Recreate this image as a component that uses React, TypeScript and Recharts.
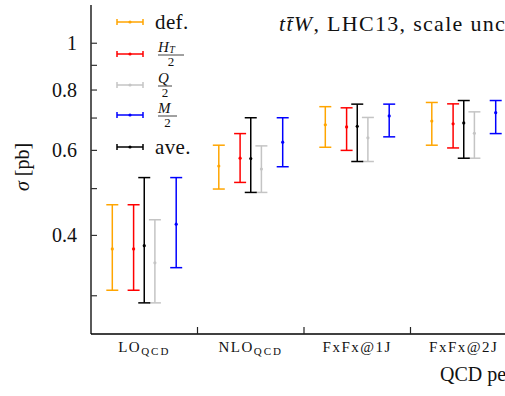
import React from 'react';
import { ComposedChart, Scatter, XAxis, YAxis, ErrorBar, Customized } from 'recharts';

const categories = ['LO', 'NLO', 'FxFx@1J', 'FxFx@2J'];
const categorySubs = ['QCD', 'QCD', '', ''];
const seriesNames = ['def.', 'HT/2', 'Q/2', 'M/2', 'ave.'];
const seriesColors = ['#FFA500', '#FF0000', '#C4C4C4', '#0000FF', '#000000'];
const seriesOffsets = [-0.3, -0.1, 0.1, 0.3, 0];

const defCentral = [0.375, 0.557, 0.678, 0.690];
const defLow = [0.308, 0.499, 0.609, 0.615];
const defHigh = [0.463, 0.615, 0.739, 0.754];
const htCentral = [0.375, 0.578, 0.671, 0.681];
const htLow = [0.308, 0.515, 0.600, 0.607];
const htHigh = [0.463, 0.650, 0.735, 0.749];
const qCentral = [0.351, 0.549, 0.637, 0.651];
const qLow = [0.290, 0.491, 0.569, 0.578];
const qHigh = [0.431, 0.613, 0.702, 0.721];
const mCentral = [0.422, 0.624, 0.707, 0.718];
const mLow = [0.343, 0.555, 0.640, 0.650];
const mHigh = [0.527, 0.701, 0.748, 0.761];
const aveCentral = [0.381, 0.577, 0.673, 0.684];
const aveLow = [0.290, 0.491, 0.569, 0.578];
const aveHigh = [0.527, 0.701, 0.748, 0.761];

const yTicks = [0.3, 0.4, 0.5, 0.6, 0.7, 0.8, 0.9, 1];
const yTickLabels = ['', '0.4', '', '0.6', '', '0.8', '', '1'];

const FONT = '"Liberation Serif", "DejaVu Serif", serif';

const seriesValues = [
  [defCentral, defLow, defHigh],
  [htCentral, htLow, htHigh],
  [qCentral, qLow, qHigh],
  [mCentral, mLow, mHigh],
  [aveCentral, aveLow, aveHigh],
];

const seriesData = seriesValues.map(([c, lo, hi], s) =>
  categories.map((_, i) => ({
    x: i + seriesOffsets[s],
    y: c[i],
    err: [c[i] - lo[i], hi[i] - c[i]],
  }))
);

const xCenters = categories.map((_, i) => i);
const xBounds = categories.map((_, i) => i + 0.5);
const xTicks = [...xCenters, ...xBounds].sort((a, b) => a - b);

const XTick = (props: any) => {
  const { x, y, payload } = props;
  const v = payload.value;
  if (Number.isInteger(v)) {
    return (
      <text x={x} y={y + 18} textAnchor="middle" fontFamily={FONT} fontSize={15} letterSpacing={1.5} fill="#111">
        {categories[v]}
        {categorySubs[v] ? (
          <tspan fontSize={11} dy={3} letterSpacing={2}>{categorySubs[v]}</tspan>
        ) : null}
      </text>
    );
  }
  return <line x1={x} x2={x} y1={y} y2={y - 7} stroke="#222" strokeWidth={1.2} />;
};

const YTick = (props: any) => {
  const { x, y, payload } = props;
  const idx = yTicks.indexOf(payload.value);
  const label = idx >= 0 ? yTickLabels[idx] : '';
  return (
    <g>
      <line x1={x} x2={x + 6} y1={y} y2={y} stroke="#333" strokeWidth={1.2} />
      {label ? (
        <text x={x - 14} y={y + 7} textAnchor="end" fontFamily={FONT} fontSize={20} fill="#111">
          {label}
        </text>
      ) : null}
    </g>
  );
};

const Dot = (color: string) => (props: any) => {
  const { cx, cy } = props;
  return <circle cx={cx} cy={cy} r={1.6} fill={color} />;
};

const LegendLabel = ({ name, x, y }: { name: string; x: number; y: number }) => {
  if (name === 'def.' || name === 'ave.') {
    return (
      <text x={x} y={y + 7} fontFamily={FONT} fontSize={21} letterSpacing={0.4} fill="#111">
        {name}
      </text>
    );
  }
  const num = name.split('/')[0];
  const bar = y + 1;
  const main = num.charAt(0);
  const sub = num.slice(1);
  const barLen = sub ? 26 : main === 'M' ? 19 : 14;
  return (
    <g>
      <text x={x + 3} y={bar - 3} fontFamily={FONT} fontSize={15} fontStyle="italic" letterSpacing={0.5} fill="#111">
        {main}
        {sub ? (
          <tspan fontSize={10} dy={1}>{sub}</tspan>
        ) : null}
      </text>
      <line x1={x + 3} x2={x + 3 + barLen} y1={bar} y2={bar} stroke="#111" strokeWidth={0.8} />
      <text x={x + 3 + barLen / 2} y={bar + 11} textAnchor="middle" fontFamily={FONT} fontSize={13} fill="#111">
        2
      </text>
    </g>
  );
};

const Overlay = () => {
  const legendY = [22, 54, 85, 115, 147];
  return (
    <g>
      <text x={279} y={31} fontFamily={FONT} fontSize={22} letterSpacing={1.3} fill="#111">
        <tspan fontStyle="italic">{'tt\u0304W'}</tspan>
        {', LHC13, scale uncertainty'}
      </text>
      {seriesNames.map((n, i) => {
        const ly = legendY[i];
        const c = seriesColors[i];
        return (
          <g key={n}>
            <line x1={117} x2={143} y1={ly} y2={ly} stroke={c} strokeWidth={1.5} />
            <line x1={117} x2={117} y1={ly - 3} y2={ly + 3} stroke={c} strokeWidth={1.5} />
            <line x1={143} x2={143} y1={ly - 3} y2={ly + 3} stroke={c} strokeWidth={1.5} />
            <circle cx={130} cy={ly} r={1.6} fill={c} />
            <LegendLabel name={n} x={155} y={ly} />
          </g>
        );
      })}
      <text
        transform="translate(29,167) rotate(-90)"
        textAnchor="middle"
        fontFamily={FONT}
        fontSize={20}
        fill="#111"
      >
        <tspan fontStyle="italic">σ</tspan>
        {' [pb]'}
      </text>
      <text x={440} y={381} fontFamily={FONT} fontSize={20} fill="#111">
        QCD perturbative order
      </text>
    </g>
  );
};

export default function App() {
  return (
    <div
      style={{
        position: 'absolute',
        left: 0,
        top: 0,
        width: 505,
        height: 396,
        overflow: 'hidden',
        background: '#fff',
      }}
    >
      <ComposedChart width={530} height={396} margin={{ top: 5, right: 13, bottom: 0, left: 0 }}>
        <XAxis
          xAxisId="main"
          type="number"
          dataKey="x"
          domain={[-0.5, 3.5]}
          ticks={xTicks}
          interval={0}
          tickSize={0}
          tickMargin={0}
          tickLine={false}
          tick={<XTick />}
          height={62}
          axisLine={{ stroke: '#000', strokeWidth: 1.3 }}
          allowDataOverflow
        />
        <XAxis
          xAxisId="top"
          orientation="top"
          type="number"
          domain={[-0.5, 3.5]}
          height={0}
          tick={false}
          tickLine={false}
          axisLine={{ stroke: '#000', strokeWidth: 1.3 }}
          allowDataOverflow
        />
        <YAxis
          yAxisId="main"
          type="number"
          dataKey="y"
          scale="log"
          domain={[0.25, 1.2]}
          ticks={yTicks}
          interval={0}
          tickSize={0}
          tickMargin={0}
          tickLine={false}
          tick={<YTick />}
          width={91}
          axisLine={{ stroke: '#000', strokeWidth: 1.3 }}
          allowDataOverflow
        />
        {seriesData.map((d, s) => (
          <Scatter
            key={seriesNames[s]}
            name={seriesNames[s]}
            data={d}
            xAxisId="main"
            yAxisId="main"
            fill={seriesColors[s]}
            shape={Dot(seriesColors[s])}
            isAnimationActive={false}
          >
            <ErrorBar
              dataKey="err"
              direction="y"
              width={6}
              stroke={seriesColors[s]}
              strokeWidth={1.5}
              isAnimationActive={false}
            />
          </Scatter>
        ))}
        <Customized component={Overlay} />
      </ComposedChart>
    </div>
  );
}
